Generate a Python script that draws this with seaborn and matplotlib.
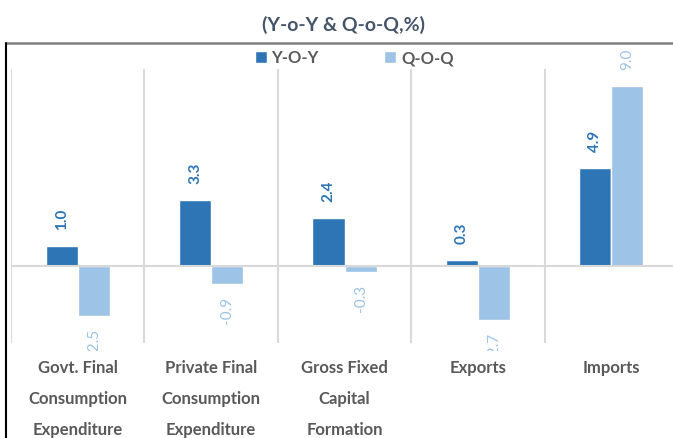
import pandas as pd
import matplotlib.pyplot as plt
import seaborn as sns
from matplotlib.lines import Line2D
from matplotlib.transforms import Bbox, TransformedBbox

categories = ["Govt. Final\nConsumption\nExpenditure", "Private Final\nConsumption\nExpenditure",
              "Gross Fixed\nCapital\nFormation", "Exports", "Imports"]
series_names = ["Y-O-Y", "Q-O-Q"]
yoy = [1.0, 3.3, 2.4, 0.3, 4.9]
qoq = [-2.5, -0.9, -0.3, -2.7, 9.0]
colors = ["#2E75B6", "#9DC3E6"]

df = pd.DataFrame({
    "category": categories * 2,
    "series": [series_names[0]] * len(yoy) + [series_names[1]] * len(qoq),
    "value": yoy + qoq,
})

sns.set_style("white")
plt.rcParams['font.family'] = ['Lato', 'DejaVu Sans']

fig = plt.figure(figsize=(6.73, 4.38), dpi=100)
ax = fig.add_axes([11 / 673, 95 / 438, 667 / 673, 274 / 438])

sns.barplot(data=df, x="category", y="value", hue="series", palette=colors,
            order=categories, hue_order=series_names, width=0.48, saturation=1,
            errorbar=None, ax=ax, zorder=2)

ax.set_xlim(-0.5, 4.5)
ax.set_ylim(-3.85, 9.85)
for s in ax.spines.values():
    s.set_visible(False)
ax.set_yticks([])
ax.set_xlabel("")
ax.set_ylabel("")

# separators and zero line
for x in [-0.5, 0.5, 1.5, 2.5, 3.5, 4.5]:
    ax.axvline(x, color="#d9d9d9", lw=1.5, zorder=1)
ax.axhline(0, color="#d9d9d9", lw=1.5, zorder=3)

# data labels, cut at the bottom of the plot area like the original
clip = TransformedBbox(Bbox([[0, 87 / 438], [1, 1]]), fig.transFigure)
for cont, c, w in zip(ax.containers, colors, ["bold", "normal"]):
    for bar in cont:
        v = bar.get_height()
        xc = bar.get_x() + bar.get_width() / 2
        t = ax.annotate(f"{v:.1f}", (xc, v), xytext=(0, 11.5 if v >= 0 else -9),
                        textcoords="offset points", rotation=90, ha="center",
                        va="bottom" if v >= 0 else "top", color=c, fontsize=11,
                        fontweight=w)
        t.set_clip_box(clip)
        t.set_clip_on(True)

ax.tick_params(axis="x", length=0, pad=12)
for lab in ax.get_xticklabels():
    lab.set_fontsize(12)
    lab.set_fontweight("bold")
    lab.set_color("#595959")
    lab.set_linespacing(2.17)
    lab.set_va("top")

ax.legend(loc="center", bbox_to_anchor=(354 / 673, 1 - 58 / 438),
          bbox_transform=fig.transFigure, ncol=2, frameon=False,
          handlelength=0.72, handleheight=0.72, handletextpad=0.3, columnspacing=3.9,
          prop={"weight": "bold", "size": 12}, labelcolor="#595959")

fig.text(343 / 673, 1 - 25 / 438, "(Y-o-Y & Q-o-Q,%)", ha="center", va="center",
         fontsize=14, fontweight="bold", color="#44546A")

# outer frame
fig.add_artist(Line2D([6 / 673, 1.01], [1 - 42.5 / 438] * 2, color="#7f7f7f", lw=1.8,
                      transform=fig.transFigure))
fig.add_artist(Line2D([6 / 673] * 2, [1 - 42.5 / 438, -0.01], color="#000000", lw=1.5,
                      transform=fig.transFigure))

fig.savefig("out.png", dpi=100)
